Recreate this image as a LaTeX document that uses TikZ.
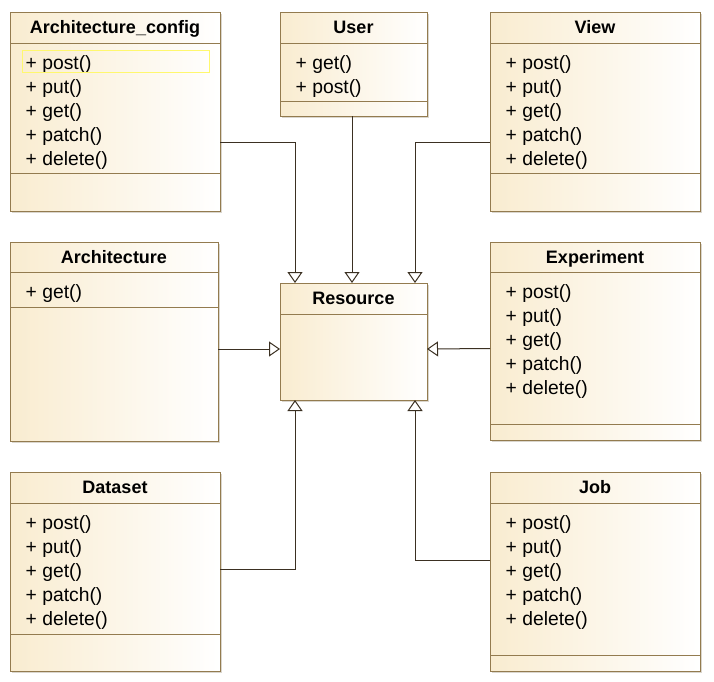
\documentclass[tikz,border=0pt]{standalone}
\usepackage{fontspec}
\setmainfont{Liberation Sans}
\usetikzlibrary{arrows.meta,calc}
\definecolor{umlborder}{RGB}{147,123,79}
\definecolor{umlfill}{RGB}{249,236,208}
\definecolor{umlline}{RGB}{59,48,34}
\definecolor{umlshadow}{RGB}{218,214,206}
\definecolor{umlsel}{RGB}{255,248,110}
\tikzset{
  classbox/.style={draw=umlborder, line width=1pt, left color=umlfill, right color=white, inner sep=0pt, outer sep=0pt, rectangle},
  classtitle/.style={font=\fontsize{18pt}{22pt}\selectfont\bfseries, anchor=base, inner sep=0pt},
  method/.style={font=\fontsize{19.3pt}{24pt}\selectfont, anchor=base west, inner sep=0pt},
  sepline/.style={draw=umlborder, line width=1pt},
  inh/.style={draw=umlline, line width=1pt, -{Triangle[open, length=11pt, width=15pt]}},
}
% #1 name, #2 left, #3 top, #4 right, #5 bottom, #6 title, #7 title separator, #8 method separator, #9 methods
\newcommand{\umlclass}[9]{%
  \fill[umlshadow] (#2+2,#3+2) rectangle (#4+2,#5+2);
  \node[classbox, minimum width={(#4-#2)*1pt}, minimum height={(#5-#3)*1pt}] (#1) at ({(#2+#4)/2},{(#3+#5)/2}) {};
  \node[classtitle] (#1-t) at ({(#2+#4)/2},{(#3+#7)/2+6}) {#6};
  \draw[sepline] (#2,#7) -- (#4,#7);
  \draw[sepline] (#2,#8) -- (#4,#8);
  \foreach \m [count=\i] in {#9} {\node[method] (#1-m\i) at (#2+15.5,#7+26+24*\i-24) {\m};}
}
\begin{document}
\begin{tikzpicture}[x=1pt,y=-1pt]
\useasboundingbox[fill=white] (0,0) rectangle (714,681);

\umlclass{ac}{10}{12}{220}{211}{Architecture\_config}{43}{173}{+ post(),+ put(),+ get(),+ patch(),+ delete()}
\draw[umlsel, line width=1pt] (22,50) rectangle (209,72);
\umlclass{user}{280}{12}{427}{116}{User}{43}{101}{+ get(),+ post()}
\umlclass{view}{490}{12}{700}{211}{View}{43}{173}{+ post(),+ put(),+ get(),+ patch(),+ delete()}
\umlclass{arch}{10}{242}{218}{441}{Architecture}{272}{307}{+ get()}
\umlclass{exp}{490}{242}{700}{440}{Experiment}{272}{424}{+ post(),+ put(),+ get(),+ patch(),+ delete()}
\umlclass{ds}{10}{472}{220}{671}{Dataset}{503}{634}{+ post(),+ put(),+ get(),+ patch(),+ delete()}
\umlclass{job}{490}{472}{700}{671}{Job}{503}{655}{+ post(),+ put(),+ get(),+ patch(),+ delete()}

% Resource
\fill[umlshadow] (282,285) rectangle (429,402);
\node[classbox, minimum width=147pt, minimum height=117pt] (res) at (353.5,341.5) {};
\node[classtitle] (res-t) at (353.5,304.5) {Resource};
\draw[sepline] (280,314) -- (427,314);

% generalisations
\draw[inh] ([yshift=-30.5pt]ac.east) -| ([xshift=-58.5pt]res.north);
\draw[inh] ([xshift=-1.5pt]user.south) -- ([xshift=-1.5pt]res.north);
\draw[inh] ([yshift=-30.5pt]view.west) -| ([xshift=61.5pt]res.north);
\draw[inh] ([yshift=-7.5pt]arch.east) -- ([yshift=-7.5pt]res.west);
\draw[inh] ([yshift=-7.5pt]exp.west) -- ([yshift=-7.5pt]res.east);
\draw[inh] ([yshift=2.5pt]ds.east) -| ([xshift=-58.5pt]res.south);
\draw[inh] ([yshift=11.5pt]job.west) -| ([xshift=61.5pt]res.south);
\end{tikzpicture}
\end{document}
